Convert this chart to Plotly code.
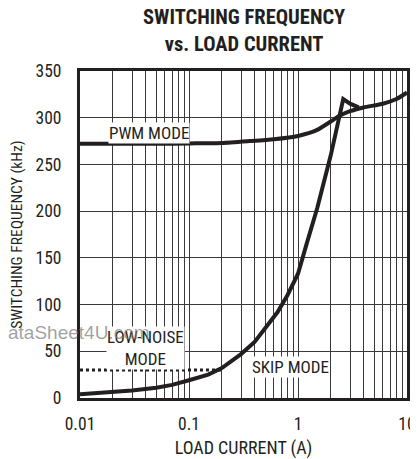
import plotly.graph_objects as go

INK = "#231F20"
GRID = "#3A3A3A"
FONT = "Liberation Sans Narrow, Arial Narrow, Roboto Condensed, sans-serif"

# PWM mode curve
pwm_current = [0.01, 0.05, 0.1, 0.2, 0.36, 0.6, 1.0, 1.5, 2.0, 2.4, 3.0, 4.0, 6.0, 8.0, 10.0]
pwm_freq = [272, 272, 272.5, 273, 275, 277, 280.5, 287, 296, 302, 307, 311, 315, 320, 327]

# skip mode curve
skip_current = [0.01, 0.02, 0.03, 0.05, 0.07, 0.1, 0.15, 0.2, 0.3, 0.4, 0.5, 0.65, 0.8, 1.0,
                1.2, 1.5, 2.0, 2.6, 3.0, 3.6]
skip_freq = [4, 6, 8, 11, 14, 19, 25, 32, 47, 60, 74, 92, 110, 133,
             165, 203, 260, 320, 315, 311]

# low-noise mode (dotted)
low_noise_current = [0.01, 0.2]
low_noise_freq = [30, 30]

x_ticks = [0.01, 0.1, 1, 10]
x_ticktext = ["0.01", "0.1", "1", "10"]
y_ticks = [0, 50, 100, 150, 200, 250, 300, 350]

minor_x = [m * 10 ** e for e in (-2, -1, 0) for m in range(2, 10)]

fig = go.Figure()
fig.add_scatter(x=low_noise_current, y=low_noise_freq, mode="lines",
                line=dict(color=INK, width=3, dash="dot"))
fig.add_scatter(x=pwm_current, y=pwm_freq, mode="lines",
                line=dict(color=INK, width=4, shape="spline", smoothing=0.6))
fig.add_scatter(x=skip_current, y=skip_freq, mode="lines",
                line=dict(color=INK, width=4))

label_box = dict(bgcolor="white", borderpad=0, showarrow=False,
                 font=dict(size=17, color=INK, family=FONT))
fig.add_annotation(x=-1.37, y=284, text="PWM MODE", **label_box)
fig.add_annotation(x=-1.40, y=54, text="LOW-NOISE<br>MODE", **label_box)
fig.add_annotation(x=-0.073, y=33, text="SKIP MODE", **label_box)

# title (two lines, centred on the plot area)
fig.add_annotation(xref="paper", yref="paper", x=0.5, y=1.125, xanchor="center", yanchor="middle",
                   text="<b>SWITCHING FREQUENCY<br>vs. LOAD CURRENT</b>", showarrow=False,
                   font=dict(size=20.5, color=INK, family=FONT))

# side code and watermark
fig.add_annotation(xref="paper", yref="paper", x=1.021, y=1.003, xanchor="center", yanchor="top",
                   text="MAX8792 toc07", textangle=90, showarrow=False,
                   font=dict(size=10, color="#666666", family=FONT))
fig.add_annotation(xref="paper", yref="paper", x=-0.225, y=0.199, xanchor="left", yanchor="middle",
                   text="ataSheet4U.com", showarrow=False,
                   font=dict(size=19, color="rgba(120,120,120,0.7)", family="Liberation Sans, Arial, sans-serif"))

# page body adds an 8px offset, so the figure is 8px smaller than the window
fig.update_layout(
    width=410,
    height=451,
    margin=dict(l=72, r=11, t=63, b=61, autoexpand=False),
    paper_bgcolor="white",
    plot_bgcolor="white",
    showlegend=False,
    font=dict(family=FONT, color=INK, size=17),
)
fig.update_xaxes(
    type="log", range=[-2, 1], automargin=False,
    tickvals=x_ticks, ticktext=x_ticktext,
    showgrid=True, gridcolor=GRID, gridwidth=1,
    minor=dict(tickvals=minor_x, showgrid=True, gridcolor=GRID, gridwidth=1, ticks=""),
    showline=True, linecolor=INK, linewidth=3, mirror=True,
    ticks="", zeroline=False, ticklabelstandoff=8,
    title=dict(text="LOAD CURRENT (A)", standoff=12, font=dict(size=18)),
    tickfont=dict(size=17.5),
)
fig.update_yaxes(
    range=[0, 350], tickvals=y_ticks, automargin=False,
    showgrid=True, gridcolor=GRID, gridwidth=1,
    showline=True, linecolor=INK, linewidth=3, mirror=True,
    ticks="", zeroline=False, ticklabelstandoff=12,
    title=dict(text="SWITCHING FREQUENCY (kHz)", standoff=10, font=dict(size=15.5)),
    tickfont=dict(size=17.5),
)

fig.write_html("out.html")
